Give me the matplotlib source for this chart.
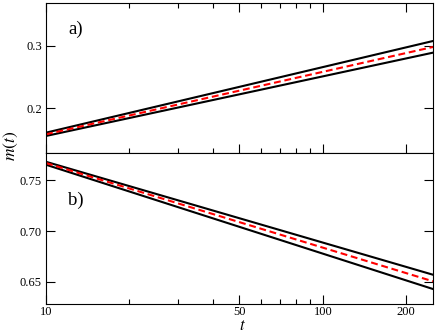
import matplotlib
matplotlib.use("Agg")
import matplotlib.pyplot as plt
from matplotlib.ticker import FixedLocator, NullFormatter

# values (the lines are straight on the log axis)
t = [10, 250]

a_upper = [0.1609, 0.3080]
a_mid = [0.1583, 0.2984]
a_lower = [0.1556, 0.2893]

b_upper = [0.7683, 0.6569]
b_mid = [0.7671, 0.6504]
b_lower = [0.7654, 0.6428]

x_ticks = [10, 50, 100, 200]
x_minor = [20, 30, 40, 60, 70, 80, 90]
a_yticks = [0.2, 0.3]
a_ylabels = ["0.2", "0.3"]
b_yticks = [0.65, 0.70, 0.75]
b_ylabels = ["0.65", "0.70", "0.75"]

RED = "#ff0000"

plt.rcParams["font.family"] = ["Liberation Serif", "DejaVu Serif"]
plt.rcParams["mathtext.fontset"] = "stix"


def style_axis(ax, top_ticks):
    ax.set_xscale("log")
    ax.set_xlim(10, 250)
    ax.xaxis.set_major_locator(FixedLocator(x_ticks))
    ax.xaxis.set_minor_locator(FixedLocator(x_minor))
    ax.xaxis.set_minor_formatter(NullFormatter())
    ax.tick_params(which="both", direction="in", right=True, top=top_ticks,
                   width=0.8, labelsize=9, pad=3)
    ax.tick_params(axis="x", pad=1.5)
    ax.tick_params(which="major", length=6.5)
    ax.tick_params(which="minor", length=3.5)
    for s in ax.spines.values():
        s.set_linewidth(0.8)


fig = plt.figure(figsize=(4.36, 3.34), dpi=100)
ax_a = fig.add_axes([0.1055, 0.542, 0.8875, 0.449])
ax_b = fig.add_axes([0.1055, 0.0913, 0.8875, 0.4507], sharex=ax_a)

for ax, up, mid, lo in [(ax_a, a_upper, a_mid, a_lower), (ax_b, b_upper, b_mid, b_lower)]:
    ax.plot(t, up, color="black", linewidth=1.5)
    ax.plot(t, lo, color="black", linewidth=1.5)
    ax.plot(t, mid, color=RED, linewidth=1.5, dashes=(3.3, 1.8))

style_axis(ax_a, True)
style_axis(ax_b, False)
ax_a.tick_params(labelbottom=False)

ax_a.set_ylim(0.1283, 0.369)
ax_a.set_yticks(a_yticks, a_ylabels)
ax_b.set_ylim(0.6285, 0.777)
ax_b.set_yticks(b_yticks, b_ylabels)
ax_b.set_xticks(x_ticks, [str(v) for v in x_ticks])

ax_a.text(0.057, 0.827, "a)", transform=ax_a.transAxes, fontsize=13.5, ha="left", va="center")
ax_b.text(0.057, 0.683, "b)", transform=ax_b.transAxes, fontsize=13.5, ha="left", va="center")

fig.text(0.024, 0.563, r"$m(t)$", rotation=90, fontsize=12.5, ha="center", va="center")
fig.text(0.555, 0.001, r"$t$", fontsize=12, ha="center", va="bottom")

fig.savefig("out.png", dpi=100)
